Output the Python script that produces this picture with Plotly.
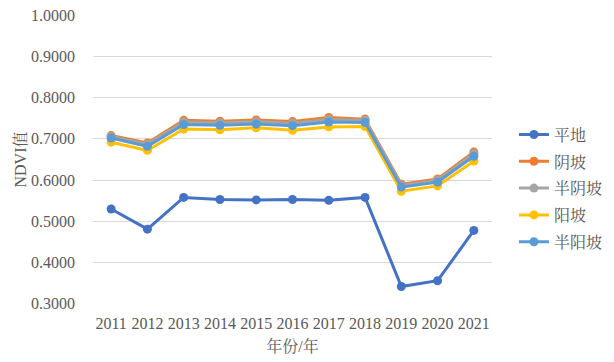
import plotly.graph_objects as go

years = ["2011", "2012", "2013", "2014", "2015", "2016", "2017", "2018", "2019", "2020", "2021"]
pingdi = [0.530, 0.481, 0.558, 0.553, 0.552, 0.553, 0.551, 0.558, 0.342, 0.356, 0.478]
yinpo = [0.708, 0.690, 0.745, 0.743, 0.746, 0.742, 0.752, 0.748, 0.590, 0.603, 0.668]
banyinpo = [0.705, 0.687, 0.741, 0.739, 0.742, 0.738, 0.747, 0.745, 0.587, 0.600, 0.664]
yangpo = [0.692, 0.672, 0.724, 0.722, 0.727, 0.721, 0.729, 0.730, 0.573, 0.586, 0.646]
banyangpo = [0.702, 0.682, 0.735, 0.733, 0.736, 0.732, 0.741, 0.740, 0.583, 0.595, 0.658]

series = [
    ("平地", pingdi, "#4472C4"),
    ("阴坡", yinpo, "#ED7D31"),
    ("半阴坡", banyinpo, "#A5A5A5"),
    ("阳坡", yangpo, "#FFC000"),
    ("半阳坡", banyangpo, "#5B9BD5"),
]

FONT = "Liberation Serif, Times New Roman, Noto Serif CJK SC, serif"

fig = go.Figure()
for i, (name, vals, color) in enumerate(series):
    fig.add_trace(go.Scatter(
        x=years, y=vals, name=name, mode="lines+markers",
        line=dict(color=color, width=3),
        marker=dict(color=color, size=9),
        legendgroup=f"g{i}",
    ))

fig.update_layout(
    width=614, height=362,
    margin=dict(l=93, r=122, t=15, b=58, autoexpand=False),
    paper_bgcolor="white", plot_bgcolor="white",
    font=dict(family=FONT, size=16, color="#595959"),
    showlegend=True,
    legend=dict(x=1.055, y=0.645, xanchor="left", yanchor="top",
                font=dict(size=16, color="#595959"),
                tracegroupgap=3, bgcolor="rgba(0,0,0,0)"),
    xaxis=dict(type="category", range=[-0.5, 10.5], showgrid=False,
               showline=False, ticks="", zeroline=False, automargin=False,
               ticklabelstandoff=8,
               title=dict(text="年份/年", font=dict(size=16), standoff=9)),
    yaxis=dict(range=[0.2995, 1.0005], dtick=0.1, tick0=0.3, tickformat=".4f",
               showgrid=True, gridcolor="#D9D9D9", gridwidth=1,
               zeroline=False, showline=False, ticks="", automargin=False,
               ticklabelstandoff=17,
               title=dict(text="NDVI值", font=dict(size=16), standoff=0)),
)

fig.write_html("out.html", config={"displayModeBar": False},
               post_script="document.body.style.margin='0';")
